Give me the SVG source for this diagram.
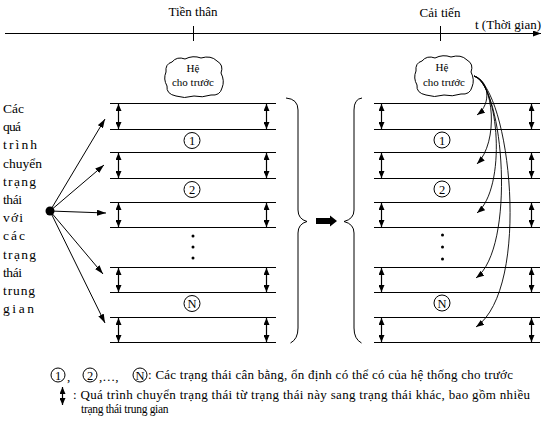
<svg xmlns="http://www.w3.org/2000/svg" width="550" height="434" viewBox="0 0 550 434">
<style>
text{font-family:"Liberation Serif","DejaVu Serif","Times New Roman",serif;fill:#000}
.t13{font-size:13px}
.lc{font-size:13.5px}
.cl{font-size:11px}
.num{font-size:12.5px}
.ln{stroke:#000;stroke-width:1;fill:none}
.da{stroke:#000;stroke-width:1.2;fill:none;marker-start:url(#ah);marker-end:url(#ah)}
.ar{stroke:#000;stroke-width:1;fill:none;marker-end:url(#ah2)}
.cv{stroke:#000;stroke-width:0.9;fill:none;marker-end:url(#ah3)}
.circ{fill:#fff;stroke:#000;stroke-width:1}
</style>
<defs>
<marker id="ah" viewBox="0 0 7 6" refX="7" refY="3" markerWidth="7" markerHeight="6" markerUnits="userSpaceOnUse" orient="auto-start-reverse"><path d="M0,0 L7,3 L0,6 Z" fill="#000"/></marker>
<marker id="ah2" viewBox="0 0 9 6" refX="9" refY="3" markerWidth="9" markerHeight="6" markerUnits="userSpaceOnUse" orient="auto"><path d="M0,0 L9,3 L0,6 Z" fill="#000"/></marker>
<marker id="ah3" viewBox="0 0 8 6" refX="8" refY="3" markerWidth="8" markerHeight="6" markerUnits="userSpaceOnUse" orient="auto"><path d="M0,0 L8,3 L0,6 Z" fill="#000"/></marker>
<marker id="ah4" viewBox="0 0 8 6" refX="8" refY="3" markerWidth="8" markerHeight="6" markerUnits="userSpaceOnUse" orient="auto"><path d="M0,0 L8,3 L0,6 Z" fill="#000"/></marker>
<path id="cloud" d="M172,62 Q177,56 185,59 Q193,55 201,58 Q211,55 217,61 Q224,65 221,73 Q225,81 222,88 Q220,96 211,95 Q202,98 194,96 Q184,99 176,96 Q166,94 167,86 Q163,79 166,72 Q165,64 172,62 Z" fill="#fff" stroke="#000" stroke-width="1"/>
</defs>

<g id="timeline">
<line class="ln" x1="5" y1="33.5" x2="541" y2="33.5" style="marker-end:url(#ah4)"/>
<line class="ln" x1="193.5" y1="26" x2="193.5" y2="41"/>
<line class="ln" x1="440.5" y1="26" x2="440.5" y2="41"/>
<text class="t13" x="193" y="16" text-anchor="middle">Tiền thân</text>
<text class="t13" x="440" y="17" text-anchor="middle">Cải tiến</text>
<text class="t13" x="475" y="29">t (Thời gian)</text>
</g>

<g id="cloud1">
<use href="#cloud"/>
<text class="cl" x="193" y="72" text-anchor="middle">Hệ</text>
<text class="cl" x="193" y="86" text-anchor="middle">cho trước</text>
</g>
<g id="cloud2">
<use href="#cloud" transform="translate(250,-1)"/>
<text class="cl" x="442" y="71" text-anchor="middle">Hệ</text>
<text class="cl" x="444" y="86" text-anchor="middle">cho trước</text>
</g>

<g id="left-label">
<text class="lc" x="3" y="113" textLength="21">Các</text>
<text class="lc" x="3" y="131.2" textLength="18">quá</text>
<text class="lc" x="3" y="149.4" textLength="34">trình</text>
<text class="lc" x="3" y="167.6" textLength="39">chuyển</text>
<text class="lc" x="3" y="185.8" textLength="33">trạng</text>
<text class="lc" x="3" y="204" textLength="19">thái</text>
<text class="lc" x="3" y="222.2" textLength="20">với</text>
<text class="lc" x="3" y="240.4" textLength="22">các</text>
<text class="lc" x="3" y="258.6" textLength="33">trạng</text>
<text class="lc" x="3" y="276.8" textLength="19">thái</text>
<text class="lc" x="3" y="295" textLength="32">trung</text>
<text class="lc" x="3" y="313.2" textLength="31">gian</text>
</g>

<g id="source-dot">
<circle cx="50" cy="211" r="4.5" fill="#000"/>
</g>

<g id="left-stack">
<path class="ln" d="M110,103.5H276M110,129.5H276M110,152.5H276M110,178.5H276M110,202.5H276M110,227.5H276M110,267.5H276M110,292.5H276M110,317.5H276M110,342.5H276"/>
<line class="da" x1="118.5" y1="104" x2="118.5" y2="129"/>
<line class="da" x1="266.5" y1="104" x2="266.5" y2="129"/>
<line class="da" x1="118.5" y1="153" x2="118.5" y2="178"/>
<line class="da" x1="266.5" y1="153" x2="266.5" y2="178"/>
<line class="da" x1="118.5" y1="203" x2="118.5" y2="227"/>
<line class="da" x1="266.5" y1="203" x2="266.5" y2="227"/>
<line class="da" x1="118.5" y1="268" x2="118.5" y2="292"/>
<line class="da" x1="266.5" y1="268" x2="266.5" y2="292"/>
<line class="da" x1="118.5" y1="318" x2="118.5" y2="342"/>
<line class="da" x1="266.5" y1="318" x2="266.5" y2="342"/>
<circle class="circ" cx="192" cy="140.5" r="8"/>
<text class="num" x="192" y="145" text-anchor="middle">1</text>
<circle class="circ" cx="192" cy="189.5" r="8"/>
<text class="num" x="192" y="194" text-anchor="middle">2</text>
<circle cx="193" cy="236" r="1.5" fill="#000"/>
<circle cx="193" cy="247" r="1.5" fill="#000"/>
<circle cx="193" cy="258" r="1.5" fill="#000"/>
<circle class="circ" cx="192" cy="303.5" r="8"/>
<text class="num" x="192" y="308" text-anchor="middle">N</text>
</g>

<g id="right-stack">
<path class="ln" d="M374,103.5H540M374,129.5H540M374,152.5H540M374,178.5H540M374,202.5H540M374,227.5H540M374,267.5H540M374,292.5H540M374,317.5H540M374,342.5H540"/>
<line class="da" x1="381.5" y1="104" x2="381.5" y2="129"/>
<line class="da" x1="531.5" y1="104" x2="531.5" y2="129"/>
<line class="da" x1="381.5" y1="153" x2="381.5" y2="178"/>
<line class="da" x1="531.5" y1="153" x2="531.5" y2="178"/>
<line class="da" x1="381.5" y1="203" x2="381.5" y2="227"/>
<line class="da" x1="531.5" y1="203" x2="531.5" y2="227"/>
<line class="da" x1="381.5" y1="268" x2="381.5" y2="292"/>
<line class="da" x1="531.5" y1="268" x2="531.5" y2="292"/>
<line class="da" x1="381.5" y1="318" x2="381.5" y2="342"/>
<line class="da" x1="531.5" y1="318" x2="531.5" y2="342"/>
<circle class="circ" cx="442" cy="140" r="8"/>
<text class="num" x="442" y="144.5" text-anchor="middle">1</text>
<circle class="circ" cx="442" cy="189" r="8"/>
<text class="num" x="442" y="193.5" text-anchor="middle">2</text>
<circle cx="442.5" cy="235" r="1.5" fill="#000"/>
<circle cx="442.5" cy="247" r="1.5" fill="#000"/>
<circle cx="442.5" cy="259" r="1.5" fill="#000"/>
<circle class="circ" cx="442" cy="303" r="8"/>
<text class="num" x="442" y="307.5" text-anchor="middle">N</text>
</g>

<g id="braces">
<path class="ln" d="M286,98 Q298,99 298,110 L298,210 Q298,219 307,221.5 Q298,224 298,233 L298,328 Q298,339 290.5,343"/>
<path class="ln" d="M362,98 Q354,99 354,110 L354,210 Q354,219 344,221.5 Q354,224 354,233 L354,328 Q354,339 361.5,343"/>
<polygon points="316,218 330,218 330,215.5 337,221 330,226.5 330,224 316,224" fill="#000"/>
</g>

<g id="connectors">
<line class="ar" x1="50" y1="211" x2="105" y2="119"/>
<line class="ar" x1="50" y1="211" x2="104" y2="165"/>
<line class="ar" x1="50" y1="211" x2="106" y2="213"/>
<line class="ar" x1="50" y1="211" x2="103" y2="274"/>
<line class="ar" x1="50" y1="211" x2="105" y2="323"/>
<path class="cv" d="M474,76 C489,80 492,104 477,115"/>
<path class="cv" d="M474,76 C494,82 499,142 477,164"/>
<path class="cv" d="M474,76 C499,84 507,188 477,213"/>
<path class="cv" d="M474,76 C504,86 516,248 476,278"/>
<path class="cv" d="M474,76 C510,88 532,288 476,327"/>
</g>

<g id="legend">
<circle class="circ" cx="58" cy="375" r="7"/>
<text class="num" x="58" y="379.5" text-anchor="middle">1</text>
<text class="t13" x="67" y="381">,</text>
<circle class="circ" cx="90" cy="375" r="7"/>
<text class="num" x="90" y="379.5" text-anchor="middle">2</text>
<text class="t13" x="99" y="381">,…,</text>
<circle class="circ" cx="140" cy="375" r="7"/>
<text class="num" x="140" y="379.5" text-anchor="middle">N</text>
<text class="t13" x="148" y="379" textLength="365">: Các trạng thái cân bằng, ổn định có thể có của hệ thống cho trước</text>
<line class="da" x1="62.5" y1="387" x2="62.5" y2="405"/>
<text class="t13" x="73" y="399" textLength="457">: Quá trình chuyển trạng thái từ trạng thái này sang trạng thái khác, bao gồm nhiều</text>
<text x="81" y="413" style="font-size:11.5px;letter-spacing:-0.3px">trạng thái trung gian</text>
</g>
</svg>
